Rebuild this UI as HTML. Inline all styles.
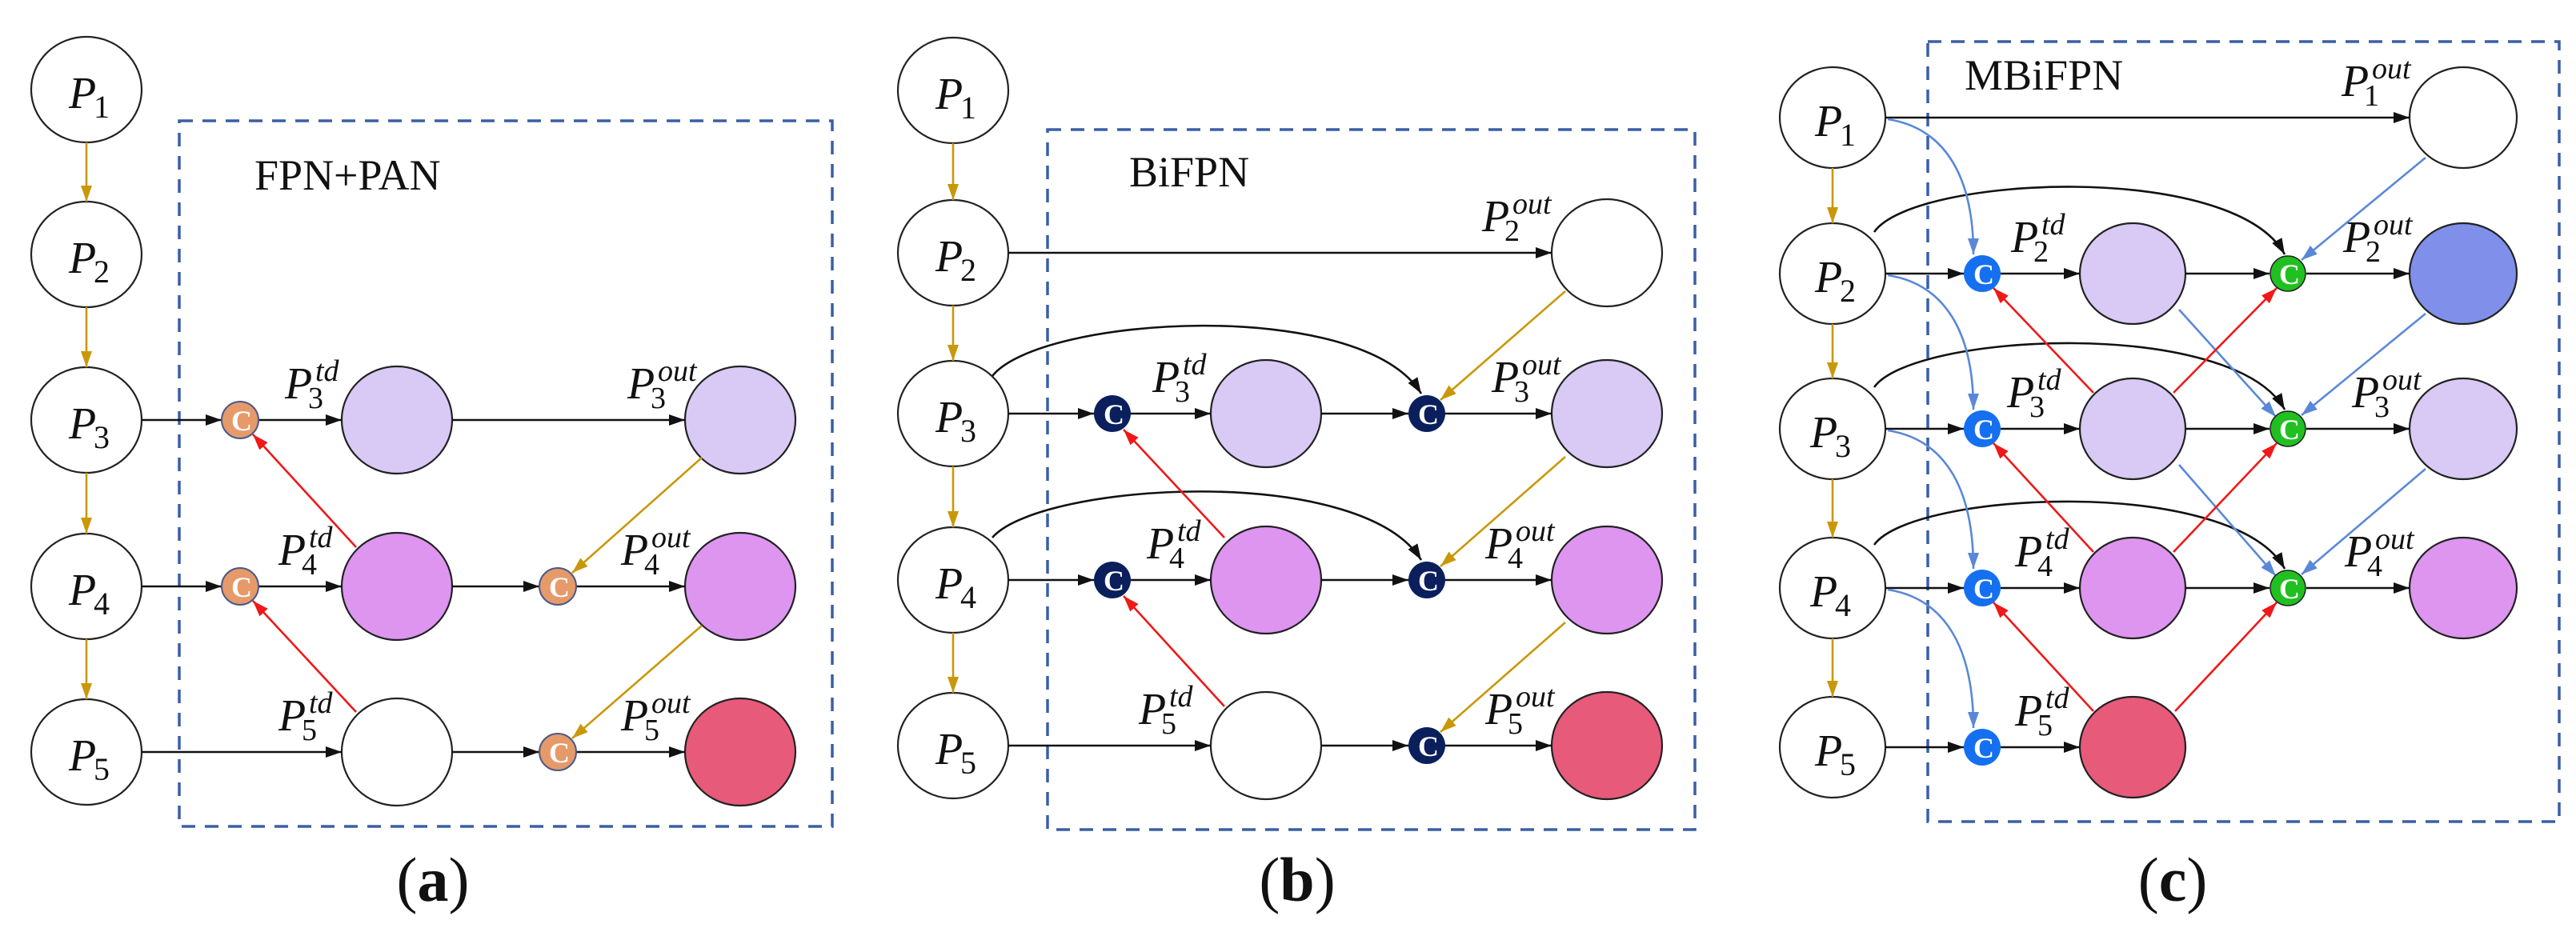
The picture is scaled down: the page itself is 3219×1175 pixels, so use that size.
<!DOCTYPE html>
<html><head><meta charset="utf-8"><style>
html,body{margin:0;padding:0;background:#fff}
svg{display:block}
.n{stroke:#222;stroke-width:2.2}
.s{font-family:"Liberation Serif",serif;font-style:italic;fill:#111}
.t{font-family:"Liberation Serif",serif;fill:#111}
.k{stroke:#111;stroke-width:2.6;fill:none}
.g{stroke:#C9980A;stroke-width:2.6;fill:none}
.r{stroke:#F01818;stroke-width:2.6;fill:none}
.b{stroke:#5A88D8;stroke-width:2.6;fill:none}
.box{stroke:#3A5FA5;stroke-width:3.5;fill:none;stroke-dasharray:17 12}
.cl{font-family:"Liberation Serif",serif;font-weight:bold;fill:#fff;font-size:36px;text-anchor:middle}
</style></head><body>
<svg width="3219" height="1175" viewBox="0 0 3219 1175" xmlns="http://www.w3.org/2000/svg">
<defs>
<marker id="ak" markerUnits="userSpaceOnUse" markerWidth="20" markerHeight="14" refX="20" refY="7" orient="auto"><path d="M0,0 L20,7 L0,14 z" fill="#111"/></marker>
<marker id="ag" markerUnits="userSpaceOnUse" markerWidth="20" markerHeight="14" refX="20" refY="7" orient="auto"><path d="M0,0 L20,7 L0,14 z" fill="#C9980A"/></marker>
<marker id="ar" markerUnits="userSpaceOnUse" markerWidth="20" markerHeight="14" refX="20" refY="7" orient="auto"><path d="M0,0 L20,7 L0,14 z" fill="#F01818"/></marker>
<marker id="ab" markerUnits="userSpaceOnUse" markerWidth="20" markerHeight="14" refX="20" refY="7" orient="auto"><path d="M0,0 L20,7 L0,14 z" fill="#5A88D8"/></marker>
</defs>

<!-- ================= PANEL A ================= -->
<rect class="box" x="224" y="151" width="816" height="882"/>
<text class="t" x="318" y="237" font-size="54">FPN+PAN</text>
<g fill="#fff">
<ellipse class="n" cx="108" cy="112" rx="69" ry="66"/>
<ellipse class="n" cx="108" cy="318" rx="69" ry="66"/>
<ellipse class="n" cx="108" cy="525" rx="69" ry="66"/>
<ellipse class="n" cx="108" cy="733" rx="69" ry="66"/>
<ellipse class="n" cx="108" cy="940" rx="69" ry="66"/>
</g>
<g class="s" font-size="56">
<text x="86" y="135">P</text><text x="86" y="341">P</text><text x="86" y="548">P</text><text x="86" y="756">P</text><text x="86" y="963">P</text>
</g>
<g class="s" font-size="40" font-style="normal">
<text x="117" y="147" font-style="normal">1</text><text x="117" y="353" font-style="normal">2</text><text x="117" y="560" font-style="normal">3</text><text x="117" y="768" font-style="normal">4</text><text x="117" y="975" font-style="normal">5</text>
</g>
<line class="g" x1="108" y1="178" x2="108" y2="252" marker-end="url(#ag)"/>
<line class="g" x1="108" y1="384" x2="108" y2="459" marker-end="url(#ag)"/>
<line class="g" x1="108" y1="591" x2="108" y2="667" marker-end="url(#ag)"/>
<line class="g" x1="108" y1="799" x2="108" y2="874" marker-end="url(#ag)"/>
<!-- nodes -->
<ellipse class="n" cx="496" cy="525" rx="69" ry="67" fill="#D8C9F5"/>
<ellipse class="n" cx="496" cy="733" rx="69" ry="67" fill="#DD95F0"/>
<ellipse class="n" cx="496" cy="940" rx="69" ry="67" fill="#fff"/>
<ellipse class="n" cx="925" cy="525" rx="69" ry="67" fill="#D8C9F5"/>
<ellipse class="n" cx="925" cy="733" rx="69" ry="67" fill="#DD95F0"/>
<ellipse class="n" cx="925" cy="940" rx="69" ry="67" fill="#E85A7A"/>
<!-- arrows -->
<line class="k" x1="177" y1="525" x2="277" y2="525" marker-end="url(#ak)"/>
<line class="k" x1="323" y1="525" x2="427" y2="525" marker-end="url(#ak)"/>
<line class="k" x1="565" y1="525" x2="856" y2="525" marker-end="url(#ak)"/>
<line class="k" x1="177" y1="733" x2="277" y2="733" marker-end="url(#ak)"/>
<line class="k" x1="323" y1="733" x2="427" y2="733" marker-end="url(#ak)"/>
<line class="k" x1="565" y1="733" x2="674" y2="733" marker-end="url(#ak)"/>
<line class="k" x1="720" y1="733" x2="856" y2="733" marker-end="url(#ak)"/>
<line class="k" x1="177" y1="940" x2="427" y2="940" marker-end="url(#ak)"/>
<line class="k" x1="565" y1="940" x2="674" y2="940" marker-end="url(#ak)"/>
<line class="k" x1="720" y1="940" x2="856" y2="940" marker-end="url(#ak)"/>
<line class="r" x1="445" y1="684" x2="316" y2="543" marker-end="url(#ar)"/>
<line class="r" x1="445" y1="890" x2="316" y2="751" marker-end="url(#ar)"/>
<line class="g" x1="877" y1="572" x2="715" y2="716" marker-end="url(#ag)"/>
<line class="g" x1="877" y1="782" x2="715" y2="923" marker-end="url(#ag)"/>
<g fill="#E69A6A" stroke="#4A5A8A" stroke-width="2">
<circle cx="300" cy="525" r="23"/><circle cx="300" cy="733" r="23"/>
<circle cx="697" cy="733" r="23"/><circle cx="697" cy="940" r="23"/>
</g>
<g class="cl"><text x="302" y="538">C</text><text x="302" y="746">C</text><text x="699" y="746">C</text><text x="699" y="953">C</text></g>
<!-- labels a -->
<g class="s">
<text x="356" y="498" font-size="56">P</text><text x="394" y="476" font-size="38">td</text><text x="385" y="510" font-size="38" font-style="normal">3</text>
<text x="348" y="706" font-size="56">P</text><text x="386" y="684" font-size="38">td</text><text x="377" y="718" font-size="38" font-style="normal">4</text>
<text x="348" y="913" font-size="56">P</text><text x="386" y="891" font-size="38">td</text><text x="377" y="925" font-size="38" font-style="normal">5</text>
<text x="784" y="498" font-size="56">P</text><text x="822" y="476" font-size="38">out</text><text x="813" y="510" font-size="38" font-style="normal">3</text>
<text x="776" y="706" font-size="56">P</text><text x="814" y="684" font-size="38">out</text><text x="805" y="718" font-size="38" font-style="normal">4</text>
<text x="776" y="913" font-size="56">P</text><text x="814" y="891" font-size="38">out</text><text x="805" y="925" font-size="38" font-style="normal">5</text>
</g>
<text class="t" x="541" y="1126" font-size="78" text-anchor="middle">(<tspan font-weight="bold">a</tspan>)</text>

<!-- ================= PANEL B ================= -->
<rect class="box" x="1309" y="162" width="809" height="875"/>
<text class="t" x="1411" y="233" font-size="54">BiFPN</text>
<g fill="#fff">
<ellipse class="n" cx="1191" cy="113" rx="69" ry="66"/>
<ellipse class="n" cx="1191" cy="316" rx="69" ry="66"/>
<ellipse class="n" cx="1191" cy="517" rx="69" ry="66"/>
<ellipse class="n" cx="1191" cy="725" rx="69" ry="66"/>
<ellipse class="n" cx="1191" cy="932" rx="69" ry="66"/>
</g>
<g class="s" font-size="56">
<text x="1169" y="136">P</text><text x="1169" y="339">P</text><text x="1169" y="540">P</text><text x="1169" y="748">P</text><text x="1169" y="955">P</text>
</g>
<g class="s" font-size="40">
<text x="1200" y="148" font-style="normal">1</text><text x="1200" y="351" font-style="normal">2</text><text x="1200" y="552" font-style="normal">3</text><text x="1200" y="760" font-style="normal">4</text><text x="1200" y="967" font-style="normal">5</text>
</g>
<line class="g" x1="1191" y1="179" x2="1191" y2="250" marker-end="url(#ag)"/>
<line class="g" x1="1191" y1="382" x2="1191" y2="451" marker-end="url(#ag)"/>
<line class="g" x1="1191" y1="583" x2="1191" y2="659" marker-end="url(#ag)"/>
<line class="g" x1="1191" y1="791" x2="1191" y2="866" marker-end="url(#ag)"/>
<ellipse class="n" cx="1582" cy="517" rx="69" ry="67" fill="#D8C9F5"/>
<ellipse class="n" cx="1582" cy="725" rx="69" ry="67" fill="#DD95F0"/>
<ellipse class="n" cx="1582" cy="932" rx="69" ry="67" fill="#fff"/>
<ellipse class="n" cx="2008" cy="316" rx="69" ry="67" fill="#fff"/>
<ellipse class="n" cx="2008" cy="517" rx="69" ry="67" fill="#D8C9F5"/>
<ellipse class="n" cx="2008" cy="725" rx="69" ry="67" fill="#DD95F0"/>
<ellipse class="n" cx="2008" cy="932" rx="69" ry="67" fill="#E85A7A"/>
<line class="k" x1="1260" y1="316" x2="1939" y2="316" marker-end="url(#ak)"/>
<line class="k" x1="1260" y1="517" x2="1367" y2="517" marker-end="url(#ak)"/>
<line class="k" x1="1413" y1="517" x2="1513" y2="517" marker-end="url(#ak)"/>
<line class="k" x1="1651" y1="517" x2="1760" y2="517" marker-end="url(#ak)"/>
<line class="k" x1="1806" y1="517" x2="1939" y2="517" marker-end="url(#ak)"/>
<line class="k" x1="1260" y1="725" x2="1367" y2="725" marker-end="url(#ak)"/>
<line class="k" x1="1413" y1="725" x2="1513" y2="725" marker-end="url(#ak)"/>
<line class="k" x1="1651" y1="725" x2="1760" y2="725" marker-end="url(#ak)"/>
<line class="k" x1="1806" y1="725" x2="1939" y2="725" marker-end="url(#ak)"/>
<line class="k" x1="1260" y1="932" x2="1513" y2="932" marker-end="url(#ak)"/>
<line class="k" x1="1651" y1="932" x2="1760" y2="932" marker-end="url(#ak)"/>
<line class="k" x1="1806" y1="932" x2="1939" y2="932" marker-end="url(#ak)"/>
<path class="k" d="M1240,470 C1300,395 1700,370 1776,492" marker-end="url(#ak)"/>
<path class="k" d="M1240,672 C1300,603 1700,578 1776,700" marker-end="url(#ak)"/>
<line class="r" x1="1530" y1="672" x2="1404" y2="537" marker-end="url(#ar)"/>
<line class="r" x1="1530" y1="883" x2="1404" y2="745" marker-end="url(#ar)"/>
<line class="g" x1="1956" y1="364" x2="1800" y2="500" marker-end="url(#ag)"/>
<line class="g" x1="1956" y1="571" x2="1800" y2="708" marker-end="url(#ag)"/>
<line class="g" x1="1956" y1="778" x2="1800" y2="915" marker-end="url(#ag)"/>
<g fill="#0A1F5C">
<circle cx="1390" cy="517" r="23"/><circle cx="1390" cy="725" r="23"/>
<circle cx="1783" cy="517" r="23"/><circle cx="1783" cy="725" r="23"/><circle cx="1783" cy="932" r="23"/>
</g>
<g class="cl"><text x="1392" y="530">C</text><text x="1392" y="738">C</text><text x="1785" y="530">C</text><text x="1785" y="738">C</text><text x="1785" y="945">C</text></g>
<g class="s">
<text x="1440" y="490" font-size="56">P</text><text x="1478" y="468" font-size="38">td</text><text x="1468" y="502" font-size="38" font-style="normal">3</text>
<text x="1433" y="698" font-size="56">P</text><text x="1471" y="676" font-size="38">td</text><text x="1461" y="710" font-size="38" font-style="normal">4</text>
<text x="1423" y="905" font-size="56">P</text><text x="1461" y="883" font-size="38">td</text><text x="1451" y="917" font-size="38" font-style="normal">5</text>
<text x="1852" y="289" font-size="56">P</text><text x="1890" y="267" font-size="38">out</text><text x="1880" y="301" font-size="38" font-style="normal">2</text>
<text x="1864" y="490" font-size="56">P</text><text x="1902" y="468" font-size="38">out</text><text x="1892" y="502" font-size="38" font-style="normal">3</text>
<text x="1856" y="698" font-size="56">P</text><text x="1894" y="676" font-size="38">out</text><text x="1884" y="710" font-size="38" font-style="normal">4</text>
<text x="1856" y="905" font-size="56">P</text><text x="1894" y="883" font-size="38">out</text><text x="1884" y="917" font-size="38" font-style="normal">5</text>
</g>
<text class="t" x="1621" y="1126" font-size="78" text-anchor="middle">(<tspan font-weight="bold">b</tspan>)</text>

<!-- ================= PANEL C ================= -->
<rect class="box" x="2409" y="52" width="789" height="975"/>
<text class="t" x="2455" y="112" font-size="54">MBiFPN</text>
<g fill="#fff">
<ellipse class="n" cx="2290" cy="147" rx="66" ry="63"/>
<ellipse class="n" cx="2290" cy="342" rx="66" ry="63"/>
<ellipse class="n" cx="2290" cy="536" rx="66" ry="63"/>
<ellipse class="n" cx="2290" cy="735" rx="66" ry="63"/>
<ellipse class="n" cx="2290" cy="934" rx="66" ry="63"/>
</g>
<g class="s" font-size="56">
<text x="2268" y="170">P</text><text x="2268" y="365">P</text><text x="2262" y="559">P</text><text x="2262" y="758">P</text><text x="2268" y="957">P</text>
</g>
<g class="s" font-size="40">
<text x="2299" y="182" font-style="normal">1</text><text x="2299" y="377" font-style="normal">2</text><text x="2293" y="571" font-style="normal">3</text><text x="2293" y="770" font-style="normal">4</text><text x="2299" y="969" font-style="normal">5</text>
</g>
<line class="g" x1="2290" y1="210" x2="2290" y2="279" marker-end="url(#ag)"/>
<line class="g" x1="2290" y1="405" x2="2290" y2="473" marker-end="url(#ag)"/>
<line class="g" x1="2290" y1="599" x2="2290" y2="672" marker-end="url(#ag)"/>
<line class="g" x1="2290" y1="798" x2="2290" y2="871" marker-end="url(#ag)"/>
<ellipse class="n" cx="2665" cy="342" rx="66" ry="63" fill="#D8C9F5"/>
<ellipse class="n" cx="2665" cy="536" rx="66" ry="63" fill="#D8C9F5"/>
<ellipse class="n" cx="2665" cy="735" rx="66" ry="63" fill="#DD95F0"/>
<ellipse class="n" cx="2665" cy="934" rx="66" ry="63" fill="#E85A7A"/>
<ellipse class="n" cx="3078" cy="147" rx="67" ry="63" fill="#fff"/>
<ellipse class="n" cx="3078" cy="342" rx="67" ry="63" fill="#8090EA"/>
<ellipse class="n" cx="3078" cy="536" rx="67" ry="63" fill="#D8C9F5"/>
<ellipse class="n" cx="3078" cy="735" rx="67" ry="63" fill="#DD95F0"/>
<line class="k" x1="2356" y1="147" x2="3011" y2="147" marker-end="url(#ak)"/>
<line class="k" x1="2356" y1="342" x2="2454" y2="342" marker-end="url(#ak)"/>
<line class="k" x1="2500" y1="342" x2="2599" y2="342" marker-end="url(#ak)"/>
<line class="k" x1="2731" y1="342" x2="2836" y2="342" marker-end="url(#ak)"/>
<line class="k" x1="2882" y1="342" x2="3011" y2="342" marker-end="url(#ak)"/>
<line class="k" x1="2356" y1="536" x2="2454" y2="536" marker-end="url(#ak)"/>
<line class="k" x1="2500" y1="536" x2="2599" y2="536" marker-end="url(#ak)"/>
<line class="k" x1="2731" y1="536" x2="2836" y2="536" marker-end="url(#ak)"/>
<line class="k" x1="2882" y1="536" x2="3011" y2="536" marker-end="url(#ak)"/>
<line class="k" x1="2356" y1="735" x2="2454" y2="735" marker-end="url(#ak)"/>
<line class="k" x1="2500" y1="735" x2="2599" y2="735" marker-end="url(#ak)"/>
<line class="k" x1="2731" y1="735" x2="2836" y2="735" marker-end="url(#ak)"/>
<line class="k" x1="2882" y1="735" x2="3011" y2="735" marker-end="url(#ak)"/>
<line class="k" x1="2356" y1="934" x2="2454" y2="934" marker-end="url(#ak)"/>
<line class="k" x1="2500" y1="934" x2="2599" y2="934" marker-end="url(#ak)"/>
<path class="k" d="M2342,290 C2390,220 2790,200 2855,318" marker-end="url(#ak)"/>
<path class="k" d="M2342,484 C2390,416 2790,396 2855,512" marker-end="url(#ak)"/>
<path class="k" d="M2342,681 C2390,614 2790,594 2855,711" marker-end="url(#ak)"/>
<path class="b" d="M2359,149 C2430,160 2466,220 2466,318" marker-end="url(#ab)"/>
<path class="b" d="M2359,344 C2430,355 2466,415 2466,512" marker-end="url(#ab)"/>
<path class="b" d="M2359,538 C2430,549 2466,610 2466,711" marker-end="url(#ab)"/>
<path class="b" d="M2359,737 C2430,748 2466,809 2466,910" marker-end="url(#ab)"/>
<line class="b" x1="3031" y1="197" x2="2876" y2="325" marker-end="url(#ab)"/>
<line class="b" x1="3031" y1="392" x2="2876" y2="519" marker-end="url(#ab)"/>
<line class="b" x1="3031" y1="586" x2="2876" y2="718" marker-end="url(#ab)"/>
<line class="b" x1="2723" y1="387" x2="2844" y2="521" marker-end="url(#ab)"/>
<line class="b" x1="2723" y1="581" x2="2844" y2="720" marker-end="url(#ab)"/>
<line class="r" x1="2616" y1="491" x2="2491" y2="360" marker-end="url(#ar)"/>
<line class="r" x1="2616" y1="690" x2="2491" y2="554" marker-end="url(#ar)"/>
<line class="r" x1="2616" y1="889" x2="2491" y2="753" marker-end="url(#ar)"/>
<line class="r" x1="2716" y1="491" x2="2845" y2="360" marker-end="url(#ar)"/>
<line class="r" x1="2716" y1="690" x2="2845" y2="554" marker-end="url(#ar)"/>
<line class="r" x1="2718" y1="889" x2="2845" y2="753" marker-end="url(#ar)"/>
<g fill="#1470F0">
<circle cx="2477" cy="342" r="23"/><circle cx="2477" cy="536" r="23"/><circle cx="2477" cy="735" r="23"/><circle cx="2477" cy="934" r="23"/>
</g>
<g fill="#20C020" stroke="#222" stroke-width="1.5">
<circle cx="2859" cy="342" r="22"/><circle cx="2859" cy="536" r="22"/><circle cx="2859" cy="735" r="22"/>
</g>
<g class="cl"><text x="2479" y="355">C</text><text x="2479" y="549">C</text><text x="2479" y="748">C</text><text x="2479" y="947">C</text>
<text x="2861" y="355">C</text><text x="2861" y="549">C</text><text x="2861" y="748">C</text></g>
<g class="s">
<text x="2513" y="315" font-size="56">P</text><text x="2551" y="293" font-size="38">td</text><text x="2541" y="327" font-size="38" font-style="normal">2</text>
<text x="2508" y="509" font-size="56">P</text><text x="2546" y="487" font-size="38">td</text><text x="2536" y="521" font-size="38" font-style="normal">3</text>
<text x="2518" y="708" font-size="56">P</text><text x="2556" y="686" font-size="38">td</text><text x="2546" y="720" font-size="38" font-style="normal">4</text>
<text x="2518" y="907" font-size="56">P</text><text x="2556" y="885" font-size="38">td</text><text x="2546" y="919" font-size="38" font-style="normal">5</text>
<text x="2926" y="120" font-size="56">P</text><text x="2964" y="98" font-size="38">out</text><text x="2954" y="132" font-size="38" font-style="normal">1</text>
<text x="2928" y="315" font-size="56">P</text><text x="2966" y="293" font-size="38">out</text><text x="2956" y="327" font-size="38" font-style="normal">2</text>
<text x="2939" y="509" font-size="56">P</text><text x="2977" y="487" font-size="38">out</text><text x="2967" y="521" font-size="38" font-style="normal">3</text>
<text x="2930" y="708" font-size="56">P</text><text x="2968" y="686" font-size="38">out</text><text x="2958" y="720" font-size="38" font-style="normal">4</text>
</g>
<text class="t" x="2715" y="1126" font-size="78" text-anchor="middle">(<tspan font-weight="bold">c</tspan>)</text>
</svg>
</body></html>
